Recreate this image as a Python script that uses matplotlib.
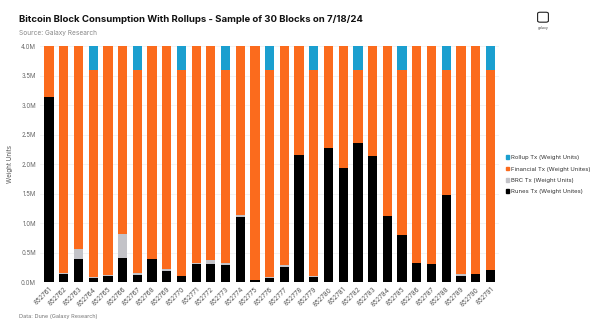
import matplotlib.pyplot as plt
import matplotlib.patches as mpatches
from matplotlib.patches import FancyBboxPatch

# Blocks sampled on 7/18/24, weight units in millions
blocks = [str(b) for b in range(852761, 852792)]

runes = [3.14, 0.13, 0.39, 0.07, 0.11, 0.41, 0.12, 0.39, 0.19, 0.10,
         0.31, 0.31, 0.28, 1.10, 0.03, 0.07, 0.25, 2.15, 0.08, 2.27,
         1.93, 2.35, 2.13, 1.12, 0.80, 0.32, 0.31, 1.48, 0.11, 0.14, 0.20]
brc = [0.00, 0.03, 0.17, 0.01, 0.01, 0.41, 0.04, 0.00, 0.03, 0.00,
       0.02, 0.06, 0.04, 0.03, 0.00, 0.02, 0.03, 0.00, 0.02, 0.00,
       0.00, 0.00, 0.00, 0.00, 0.00, 0.00, 0.00, 0.00, 0.02, 0.00, 0.00]
financial = [0.86, 3.84, 3.44, 3.52, 3.88, 3.18, 3.44, 3.61, 3.78, 3.50,
             3.67, 3.63, 3.28, 2.87, 3.97, 3.51, 3.72, 1.85, 3.50, 1.73,
             2.07, 1.25, 1.87, 2.88, 2.80, 3.68, 3.69, 2.12, 3.87, 3.86, 3.40]
rollup = [0.00, 0.00, 0.00, 0.40, 0.00, 0.00, 0.40, 0.00, 0.00, 0.40,
          0.00, 0.00, 0.40, 0.00, 0.00, 0.40, 0.00, 0.00, 0.40, 0.00,
          0.00, 0.40, 0.00, 0.00, 0.40, 0.00, 0.00, 0.40, 0.00, 0.00, 0.40]

C_RUNES = "#000000"
C_BRC = "#c3c3c8"
C_FIN = "#fb6b1d"
C_ROLL = "#1b9fcf"

plt.rcParams["font.family"] = ["Inter", "DejaVu Sans"]

fig = plt.figure(figsize=(6.0, 3.31), dpi=100, facecolor="white")
ax = fig.add_axes([0.067, 0.148, 0.765, 0.713])

x = range(len(blocks))
w = 0.63
b1 = runes
b2 = [r + b for r, b in zip(runes, brc)]
b3 = [s + f for s, f in zip(b2, financial)]
ax.bar(x, runes, width=w, color=C_RUNES, zorder=2)
ax.bar(x, brc, width=w, bottom=b1, color=C_BRC, zorder=2)
ax.bar(x, financial, width=w, bottom=b2, color=C_FIN, zorder=2)
ax.bar(x, rollup, width=w, bottom=b3, color=C_ROLL, zorder=2)

ax.set_xlim(-0.6, len(blocks) - 0.4)
ax.set_ylim(0, 4.0)
yt = [0, 0.5, 1.0, 1.5, 2.0, 2.5, 3.0, 3.5, 4.0]
ax.set_yticks(yt)
ax.set_yticklabels([f"{v:.1f}M" for v in yt], fontsize=4.4, color="#666666")
ax.set_xticks(list(x))
ax.set_xticklabels(blocks, rotation=45, ha="right", rotation_mode="anchor",
                   fontsize=4.7, color="#555555")
ax.tick_params(length=0, pad=3)
ax.grid(axis="y", color="#eeeeee", linewidth=0.5, zorder=0)
for s in ax.spines.values():
    s.set_visible(False)
ax.set_ylabel("Weight Units", fontsize=4.5, color="#555555", labelpad=6)

handles = [mpatches.Patch(color=C_ROLL, label="Rollup Tx (Weight Units)"),
           mpatches.Patch(color=C_FIN, label="Financial Tx (Weight Unites)"),
           mpatches.Patch(color=C_BRC, label="BRC Tx (Weight Units)"),
           mpatches.Patch(color=C_RUNES, label="Runes Tx (Weight Unites)")]
fig.legend(handles=handles, loc="upper left", bbox_to_anchor=(0.838, 0.54),
           frameon=False, fontsize=4.3, handlelength=0.6, handleheight=0.6,
           handletextpad=0.3, labelspacing=1.05, borderpad=0, labelcolor="#333333")

fig.text(0.032, 0.935, "Bitcoin Block Consumption With Rollups - Sample of 30 Blocks on 7/18/24",
         fontsize=6.9, fontweight="bold", color="#111111")
fig.text(0.032, 0.895, "Source: Galaxy Research", fontsize=4.7, color="#888888")
fig.text(0.032, 0.038, "Data: Dune (Galaxy Research)", fontsize=4.0, color="#777777")

# small brand mark top right
logo = FancyBboxPatch((0.898, 0.935), 0.014, 0.026, boxstyle="round,pad=0.002,rounding_size=0.004",
                      transform=fig.transFigure, fill=False, edgecolor="#222222", linewidth=0.8)
fig.patches.append(logo)
fig.text(0.905, 0.912, "galaxy", fontsize=2.5, color="#444444", ha="center")

fig.savefig("out.png", dpi=100, facecolor="white")
